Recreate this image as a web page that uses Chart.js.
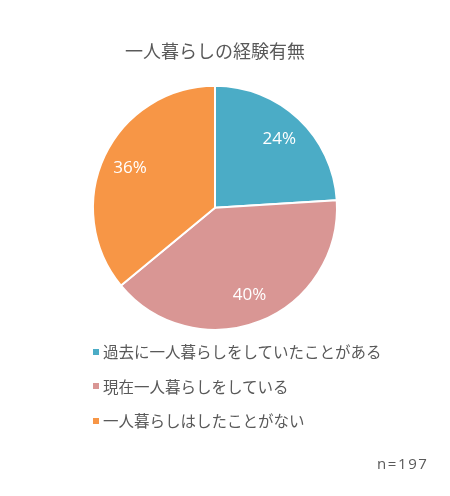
<!DOCTYPE html>
<html>
<head>
<meta charset="utf-8">
<script src="https://cdn.jsdelivr.net/npm/chart.js@4"></script>
<style>
  html, body { margin: 0; padding: 0; background: #fff; }
  #wrap { position: relative; width: 450px; height: 496px; }
  #legend { position: absolute; left: 93px; top: 338px; font-family: "Noto Sans CJK JP", sans-serif; font-size: 15.5px; color: #595959; }
  #legend div { height: 34.5px; line-height: 26px; white-space: nowrap; }
  #legend span { display: inline-block; width: 6px; height: 6px; margin-right: 4px; vertical-align: middle; position: relative; top: -2px; }
  #note { position: absolute; left: 377px; top: 453px; font-family: "Open Sans", sans-serif; font-size: 15px; letter-spacing: 1.6px; color: #595959; }
</style>
</head>
<body>
<div id="wrap">
  <canvas id="c" width="450" height="496"></canvas>
  <div id="legend"></div>
  <div id="note">n=197</div>
</div>
<script>
var categories = ["過去に一人暮らしをしていたことがある", "現在一人暮らしをしている", "一人暮らしはしたことがない"];
var values = [24, 40, 36];
var colors = ["#4BACC6", "#D99694", "#F79646"];

var legend = document.getElementById('legend');
categories.forEach(function(name, i){
    var row = document.createElement('div');
    var box = document.createElement('span');
    box.style.background = colors[i];
    row.appendChild(box);
    row.appendChild(document.createTextNode(name));
    legend.appendChild(row);
});

// percent labels inside the slices
var sliceLabels = {
    id: 'sliceLabels',
    afterDatasetsDraw: function(chart){
        var ctx = chart.ctx;
        var meta = chart.getDatasetMeta(0);
        ctx.save();
        ctx.fillStyle = '#fff';
        ctx.font = '17px "Open Sans", sans-serif';
        ctx.textAlign = 'center';
        ctx.textBaseline = 'middle';
        meta.data.forEach(function(arc, i){
            var p = arc.getProps(['x', 'y', 'startAngle', 'endAngle', 'outerRadius'], true);
            var a = (p.startAngle + p.endAngle) / 2;
            var r = p.outerRadius * 0.77;
            ctx.fillText(values[i] + '%', p.x + Math.cos(a) * r, p.y + Math.sin(a) * r);
        });
        ctx.restore();
    }
};

var chart = new Chart(document.getElementById('c'), {
    type: 'pie',
    data: {
        labels: categories,
        datasets: [{
            data: values,
            backgroundColor: colors,
            borderColor: '#fff',
            borderWidth: 2
        }]
    },
    options: {
        responsive: false,
        animation: false,
        layout: { padding: { left: 92, right: 112, top: 0, bottom: 165 } },
        plugins: {
            legend: { display: false },
            tooltip: { enabled: false },
            title: {
                display: true,
                text: '一人暮らしの経験有無',
                color: '#595959',
                font: { size: 18, family: '"Noto Sans CJK JP", sans-serif', weight: 'normal' },
                padding: { top: 40, bottom: 23 }
            }
        }
    },
    plugins: [sliceLabels]
});
</script>
</body>
</html>
